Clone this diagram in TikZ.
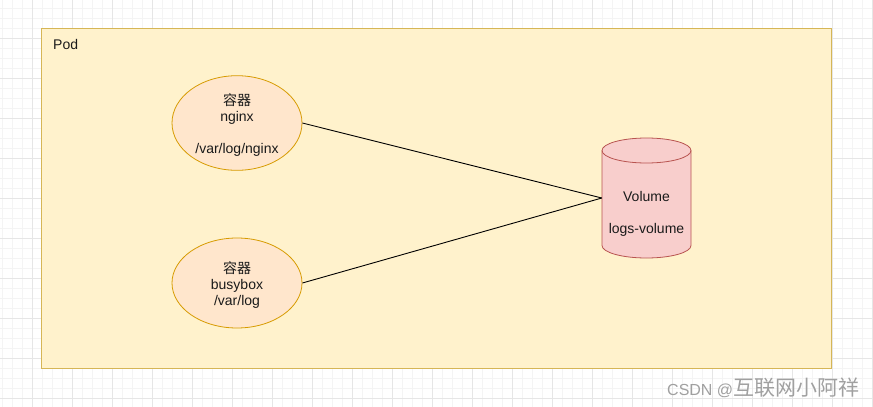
\documentclass[tikz,border=0pt]{standalone}
\usepackage{fontspec}
\setmainfont{Liberation Sans}
\newfontfamily\cjk{Noto Sans CJK SC}
\usetikzlibrary{shapes.geometric}
\definecolor{podfill}{HTML}{FFF2CC}
\definecolor{poddraw}{HTML}{D6B656}
\definecolor{elfill}{HTML}{FFE6CC}
\definecolor{eldraw}{HTML}{D79B00}
\definecolor{volfill}{HTML}{F8CECC}
\definecolor{voldraw}{HTML}{B85450}
\definecolor{gridmaj}{HTML}{E6E6E6}
\definecolor{gridmin}{HTML}{F4F4F4}
\definecolor{wm}{HTML}{A0A0A0}
\definecolor{txt}{HTML}{1A1A1A}
\tikzset{
  gridminor/.style={draw=gridmin, line width=0.6pt},
  gridmajor/.style={draw=gridmaj, line width=0.8pt},
  podbox/.style={draw=poddraw, fill=podfill, line width=0.8pt, inner sep=0pt, anchor=north west},
  contbox/.style={ellipse, draw=eldraw, fill=elfill, line width=0.8pt, inner sep=0pt,
    minimum width=130pt, minimum height=90pt, align=center, text=txt,
    font=\fontsize{14}{16}\selectfont},
  volshape/.style={draw=voldraw, fill=volfill, line width=0.8pt},
  volbox/.style={inner sep=0pt, minimum width=89pt, minimum height=120pt},
  lbl/.style={text=txt, font=\fontsize{14}{16}\selectfont, align=center, inner sep=0pt},
  link/.style={draw=black, line width=0.9pt},
}
\begin{document}
\begin{tikzpicture}[x=1pt,y=-1pt]
\useasboundingbox (0,0) rectangle (873,407);
\fill[white] (0,0) rectangle (873,407);
\foreach \x in {2,12,...,872} \draw[gridminor] (\x,0) -- (\x,407);
\foreach \y in {8,18,...,398} \draw[gridminor] (0,\y) -- (873,\y);
\foreach \x in {32,72,...,872} \draw[gridmajor] (\x,0) -- (\x,407);
\foreach \y in {38,78,...,398} \draw[gridmajor] (0,\y) -- (873,\y);

\node[podbox, minimum width=790pt, minimum height=340pt] (pod) at (41,28) {};
\node[lbl, anchor=west] (podlbl) at (53,44) {Pod};

\node[contbox] (nginx) at (237,123) {\rule{0pt}{16pt}{\cjk 容器}\\nginx\\[16pt]/var/log/nginx};
\node[contbox] (busybox) at (237,283) {\rule{0pt}{15pt}{\cjk 容器}\\busybox\\/var/log};

\node[volbox] (vol) at (646.5,198) {};
\filldraw[volshape] (602,150.5) -- (602,245.5)
  arc[start angle=180, end angle=360, x radius=44.5pt, y radius=12.5pt]
  -- (691,150.5)
  arc[start angle=0, end angle=180, x radius=44.5pt, y radius=12.5pt] -- cycle;
\draw[volshape, fill=none] (602,150.5)
  arc[start angle=180, end angle=360, x radius=44.5pt, y radius=12.5pt];
\node[lbl] (vollbl) at (646.5,214) {Volume\\[16pt]logs-volume};

\draw[link] (nginx.east) -- (vol.west);
\draw[link] (busybox.east) -- (vol.west);

\node[anchor=west, inner sep=0pt, text=wm] (wmark) at (667,388)
  {\fontsize{16}{18}\selectfont CSDN @{\cjk\fontsize{21}{22}\selectfont 互联网小阿祥}};
\end{tikzpicture}
\end{document}
